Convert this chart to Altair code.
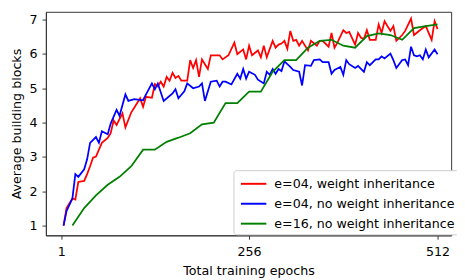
import altair as alt
import pandas as pd

labels = ["e=04, weight inheritance", "e=04, no weight inheritance", "e=16, no weight inheritance"]
colors = ["#ff0000", "#0000ff", "#008000"]

red_epochs = [4, 8, 16, 20, 24, 32, 36, 40, 44, 48, 56, 64, 68, 72, 76, 80, 84, 88, 96, 100,
              108, 112, 116, 124, 128, 132, 136, 140, 144, 148, 152, 156, 160, 164, 172, 176, 180, 184, 188, 192,
              196, 200, 204, 216, 220, 228, 236, 240, 248, 252, 256, 260, 268, 272, 276, 280, 288, 292, 296, 300,
              304, 308, 312, 316, 320, 324, 328, 336, 340, 348, 352, 356, 364, 368, 372, 376, 384, 388, 392, 400,
              404, 408, 412, 416, 420, 428, 432, 436, 440, 448, 452, 456, 464, 468, 476, 480, 488, 496, 504, 508, 512]
red_values = [1.00, 1.51, 1.79, 1.76, 2.27, 2.30, 2.50, 2.73, 2.98, 3.01, 3.41, 3.55, 3.69, 4.06, 3.93, 4.10, 4.27, 3.86, 4.30, 4.43,
              4.71, 4.46, 4.75, 4.72, 5.12, 5.05, 5.19, 5.05, 5.33, 5.22, 5.45, 5.30, 5.36, 5.22, 5.22, 5.82, 5.59, 5.82, 5.33, 5.84,
              5.70, 5.56, 5.96, 5.96, 5.84, 5.96, 6.33, 5.99, 6.13, 5.84, 6.24, 5.96, 6.10, 5.90, 6.24, 5.90, 6.38, 6.18, 6.27, 6.30,
              6.38, 6.15, 6.67, 6.38, 6.41, 6.24, 6.38, 6.10, 6.38, 6.24, 6.38, 6.38, 6.21, 6.61, 6.18, 6.33, 6.69, 6.61, 6.64, 6.27,
              6.61, 6.47, 6.44, 6.69, 6.41, 6.41, 6.86, 6.61, 6.95, 6.67, 6.81, 6.38, 6.55, 6.67, 7.03, 6.55, 6.69, 6.81, 6.41, 6.95, 6.72]

blue_epochs = [4, 8, 16, 20, 24, 32, 36, 40, 48, 52, 56, 64, 68, 76, 80, 88, 92, 100, 112, 116,
               124, 128, 132, 140, 152, 156, 160, 168, 172, 180, 188, 192, 196, 200, 204, 212, 216, 220, 224, 232,
               240, 244, 248, 252, 256, 264, 268, 276, 280, 284, 288, 292, 296, 300, 304, 312, 316, 324, 328, 332,
               340, 344, 352, 356, 364, 368, 372, 380, 384, 388, 392, 400, 404, 412, 416, 420, 428, 432, 436, 440,
               448, 452, 456, 464, 468, 472, 476, 480, 484, 488, 492, 496, 500, 508, 512]
blue_values = [1.00, 1.42, 1.79, 2.50, 2.42, 2.64, 2.93, 3.41, 3.58, 3.41, 3.75, 3.66, 3.97, 4.37, 4.20, 4.82, 4.63, 4.68, 4.65, 4.82,
               5.14, 4.97, 5.14, 4.63, 4.85, 4.97, 4.71, 4.91, 5.14, 5.00, 5.05, 5.14, 4.63, 4.91, 5.19, 5.22, 5.05, 5.19, 5.19, 5.11,
               5.42, 5.28, 5.56, 5.28, 5.48, 5.39, 5.25, 5.14, 5.48, 5.39, 5.56, 5.42, 5.56, 5.50, 5.78, 5.62, 5.53, 5.48, 5.08, 5.67,
               5.65, 5.82, 5.84, 5.76, 5.76, 5.42, 5.53, 5.62, 5.39, 5.82, 5.70, 5.59, 5.65, 5.48, 5.76, 5.67, 5.84, 5.84, 5.93, 5.87,
               6.01, 5.82, 5.59, 5.82, 5.84, 5.67, 6.21, 5.96, 5.93, 5.96, 5.84, 6.13, 5.90, 6.13, 5.99]

green_epochs = [16, 32, 48, 64, 80, 96, 112, 128, 144, 160, 176, 192, 208, 224, 240, 256,
                272, 288, 304, 320, 336, 352, 368, 384, 400, 416, 432, 448, 464, 480, 496, 512]
green_values = [1.00, 1.51, 1.88, 2.19, 2.42, 2.73, 3.21, 3.21, 3.44, 3.56, 3.69, 3.95, 4.00, 4.57, 4.57, 4.90,
                4.90, 5.48, 5.82, 5.82, 6.18, 6.38, 6.41, 6.24, 6.18, 6.52, 6.60, 6.55, 6.41, 6.75, 6.81, 6.86]

x_ticks = [1, 256, 512]
y_ticks = [1, 2, 3, 4, 5, 6, 7]

rows = []
for k, (lab, eps, vals) in enumerate(zip(labels,
                                          [red_epochs, blue_epochs, green_epochs],
                                          [red_values, blue_values, green_values])):
    for e, v in zip(eps, vals):
        rows.append({"series": lab, "epoch": e, "value": v, "k": k})
df = pd.DataFrame(rows)

font = "DejaVu Sans"
spine = "#333333"

chart = alt.Chart(df).mark_line(strokeWidth=1.8, clip=True).encode(
    x=alt.X("epoch:Q",
            scale=alt.Scale(domain=[-20, 530.5], nice=False, zero=False),
            axis=alt.Axis(values=x_ticks, title="Total training epochs", grid=False,
                          labelPadding=7, titlePadding=6, labelFlush=False)),
    y=alt.Y("value:Q",
            scale=alt.Scale(domain=[0.717, 7.226], nice=False, zero=False),
            axis=alt.Axis(values=y_ticks, title="Average building blocks", grid=False,
                          labelPadding=5, titlePadding=6, labelFlush=False)),
    color=alt.Color("series:N",
                    scale=alt.Scale(domain=labels, range=colors),
                    legend=alt.Legend(title=None, orient="none", legendX=193, legendY=163,
                                      fillColor="white", strokeColor="#cccccc", cornerRadius=3,
                                      padding=4, rowPadding=3.5, columnPadding=0,
                                      labelFontSize=13, labelFont=font,
                                      labelColor="black", labelLimit=0,
                                      symbolType="M-0.7,0L2.2,0", symbolSize=324,
                                      symbolStrokeWidth=2, labelOffset=18)),
    detail="k:N",
).properties(
    width=417, height=230,
    autosize=alt.AutoSizeParams(type="none"),
    padding={"left": 39, "top": 0, "right": 6, "bottom": 40},
).configure_view(
    stroke=spine, strokeWidth=1
).configure_axis(
    labelFont=font, titleFont=font, labelFontSize=13, titleFontSize=13,
    titleFontWeight="normal", labelColor="black", titleColor="black",
    domainColor=spine, tickColor=spine, tickSize=4, domainWidth=1, tickWidth=1
)

chart.save("out.html", embed_options={"renderer": "svg", "actions": False})
